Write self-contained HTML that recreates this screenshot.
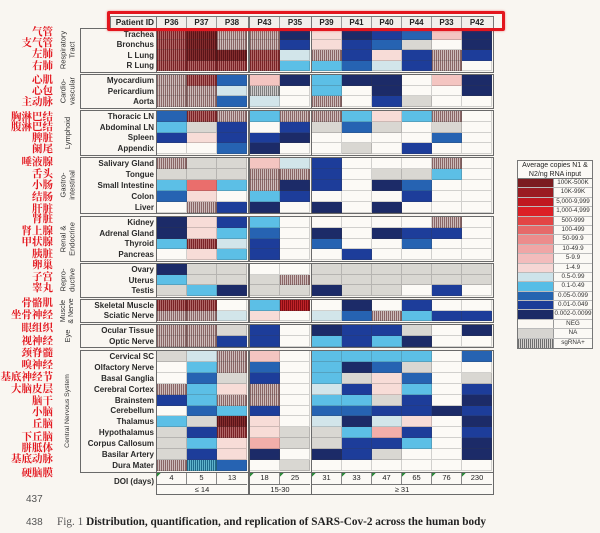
<!DOCTYPE html>
<html><head><meta charset="utf-8">
<style>
*{margin:0;padding:0}
body{width:600px;height:533px;background:#f9f6f1;position:relative;overflow:hidden;font-family:"Liberation Sans",Arial,sans-serif;color:#222}
.s{position:absolute;left:0;width:600px}
.f{position:absolute;top:-1.5px;bottom:-1.5px;border:1.5px solid #6a6a6a;box-sizing:border-box}
.f0{left:80px;width:77px}
.f1{left:155.5px;width:93px}
.f2{left:248.5px;width:63px}
.f3{left:310.5px;width:183px}
.lab{position:absolute;left:82px;width:72px;top:0;bottom:0;display:flex;flex-direction:column;font-weight:bold;font-size:8px;color:#2a2a2a}
.lab span{flex:1;display:flex;align-items:center;justify-content:flex-end;white-space:nowrap}
.g{position:absolute;left:157px;width:335px;top:0;bottom:0;display:flex;flex-direction:column}
.r{flex:1;display:flex}
.r i{display:block;width:30px;flex:none;box-sizing:border-box;border-right:1px solid rgba(60,60,60,.22);border-bottom:1px solid rgba(60,60,60,.22)}
.r i:nth-child(3){margin-right:3px}
.r i:nth-child(5){margin-right:2px}
.A{background:#7b1c20}.B{background:#a01d22}.C{background:#c4181f}.D{background:#dd2027}
.E{background:#e34747}.F{background:#ea6e6c}.G{background:#ee9090}.H{background:#f1aeaa}
.I{background:#f4c5c1}.J{background:#f7dcd7}.K{background:#d2e5ea}.L{background:#5cbfe6}
.M{background:#2663b2}.N{background:#1d3d9a}.O{background:#1c2b68}.W{background:#fcfaf6}.X{background:#d9d7d2}
.Sr{background:repeating-linear-gradient(90deg,#7a2226 0 1px,#b06868 1px 2px)}
.Sd{background:repeating-linear-gradient(90deg,#5a1317 0 1px,#852e2f 1px 2px)}
.Sb{background:repeating-linear-gradient(90deg,#8a6666 0 1px,#cdbdbb 1px 2px)}
.Sg{background:repeating-linear-gradient(90deg,#7e7e7e 0 1px,#cfcccc 1px 2px)}
.Sc{background:repeating-linear-gradient(90deg,#860c12 0 1px,#bf2329 1px 2px)}
.St{background:repeating-linear-gradient(90deg,#1f6a8c 0 1px,#5fb4cc 1px 2px)}
.sl{position:absolute;left:68px;top:50%;transform:translate(-50%,-50%) rotate(-90deg);white-space:nowrap;text-align:center;font-size:7.5px;line-height:8.5px;color:#333}
.cn{position:absolute;right:547px;font-family:"Noto Serif CJK SC","Noto Sans CJK SC",serif;font-weight:bold;font-size:10.5px;line-height:12px;color:#e3161e;white-space:nowrap}
.hb{position:absolute;top:15.5px;height:13.5px;border:1.2px solid #777;box-sizing:border-box;background:#f2efeb;display:flex;font-weight:bold;font-size:8px;line-height:11px}
.hb span{width:30px;flex:none;text-align:center;border-right:1px solid #999;box-sizing:border-box}
.hb span:last-child{border-right:none}
.d{position:absolute;top:0;height:10.5px;display:flex;font-size:7.5px;line-height:10.5px}
.d i{font-style:normal;width:30px;flex:none;text-align:center;border-right:1px solid #888;box-sizing:border-box}
.d i:last-child{border-right:none}
.d i.t{background:linear-gradient(135deg,#2e8b3c 0 2.5px,transparent 2.5px)}
.dg{position:absolute;top:10.5px;bottom:0;border-top:1px solid #777;font-size:7.5px;text-align:center;line-height:10px}
.lg{position:absolute;left:517px;top:160px;width:76px;height:189px;border:1px solid #777;box-sizing:border-box;background:#fbf9f5}
.lt{height:18px;border-bottom:1px solid #777;font-size:7px;line-height:8.5px;text-align:center;padding-top:1px;box-sizing:border-box}
.lr{height:9.4px;display:flex;border-bottom:1px solid #bbb;box-sizing:border-box}
.lr b{width:35px;flex:none}
.lr span{flex:1;border-left:1px solid #999;font-size:6.3px;line-height:8.4px;text-align:center;color:#333;white-space:nowrap;overflow:hidden}
</style></head><body>

<div class="cn" style="top:26px">气管</div>
<div class="cn" style="top:37px">支气管</div>
<div class="cn" style="top:48px">左肺</div>
<div class="cn" style="top:60px">右肺</div>
<div class="cn" style="top:74px">心肌</div>
<div class="cn" style="top:85px">心包</div>
<div class="cn" style="top:96px">主动脉</div>
<div class="cn" style="top:111px">胸淋巴结</div>
<div class="cn" style="top:121px">腹淋巴结</div>
<div class="cn" style="top:132px">脾脏</div>
<div class="cn" style="top:143px">阑尾</div>
<div class="cn" style="top:156px">唾液腺</div>
<div class="cn" style="top:168px">舌头</div>
<div class="cn" style="top:179px">小肠</div>
<div class="cn" style="top:191px">结肠</div>
<div class="cn" style="top:203px">肝脏</div>
<div class="cn" style="top:213px">肾脏</div>
<div class="cn" style="top:225px">肾上腺</div>
<div class="cn" style="top:236px">甲状腺</div>
<div class="cn" style="top:248px">胰脏</div>
<div class="cn" style="top:259px">卵巢</div>
<div class="cn" style="top:271px">子宫</div>
<div class="cn" style="top:282px">睾丸</div>
<div class="cn" style="top:297px">骨骼肌</div>
<div class="cn" style="top:309px">坐骨神经</div>
<div class="cn" style="top:322px">眼组织</div>
<div class="cn" style="top:335px">视神经</div>
<div class="cn" style="top:347px">颈脊髓</div>
<div class="cn" style="top:359px">嗅神经</div>
<div class="cn" style="top:371px">基底神经节</div>
<div class="cn" style="top:383px">大脑皮层</div>
<div class="cn" style="top:395px">脑干</div>
<div class="cn" style="top:406px">小脑</div>
<div class="cn" style="top:418px">丘脑</div>
<div class="cn" style="top:431px">下丘脑</div>
<div class="cn" style="top:442px">胼胝体</div>
<div class="cn" style="top:453px">基底动脉</div>
<div class="cn" style="top:467px">硬脑膜</div>

<div class="hb" style="left:110px;width:47px;justify-content:flex-end;padding-right:2px;font-size:8.3px">Patient ID</div>
<div class="hb" style="left:155.5px;width:93px;padding-left:0.5px"><span>P36</span><span>P37</span><span>P38</span></div>
<div class="hb" style="left:248.5px;width:63px;padding-left:0.5px"><span>P43</span><span>P35</span></div>
<div class="hb" style="left:310.5px;width:183px;padding-left:0.5px"><span>P39</span><span>P41</span><span>P40</span><span>P44</span><span>P33</span><span>P42</span></div>

<div class="s" style="top:29px;height:42px">
<b class="f f0"></b><b class="f f1"></b><b class="f f2"></b><b class="f f3"></b>
<div class="sl">Respiratory<br>Tract</div>
<div class="lab"><span>Trachea</span><span>Bronchus</span><span>L Lung</span><span>R Lung</span></div>
<div class="g">
<div class="r"><i class="Sr"></i><i class="Sd"></i><i class="Sb"></i><i class="Sb"></i><i class="O"></i><i class="J"></i><i class="O"></i><i class="N"></i><i class="M"></i><i class="I"></i><i class="O"></i></div>
<div class="r"><i class="Sr"></i><i class="Sd"></i><i class="Sb"></i><i class="Sb"></i><i class="N"></i><i class="J"></i><i class="N"></i><i class="M"></i><i class="X"></i><i class="W"></i><i class="O"></i></div>
<div class="r"><i class="Sr"></i><i class="Sd"></i><i class="Sd"></i><i class="Sr"></i><i class="K"></i><i class="Sb"></i><i class="N"></i><i class="J"></i><i class="N"></i><i class="Sb"></i><i class="N"></i></div>
<div class="r"><i class="Sr"></i><i class="Sr"></i><i class="Sr"></i><i class="Sr"></i><i class="L"></i><i class="L"></i><i class="M"></i><i class="K"></i><i class="N"></i><i class="Sb"></i><i class="W"></i></div>
</div></div>

<div class="s" style="top:75px;height:32px">
<b class="f f0"></b><b class="f f1"></b><b class="f f2"></b><b class="f f3"></b>
<div class="sl">Cardio-<br>vascular</div>
<div class="lab"><span>Myocardium</span><span>Pericardium</span><span>Aorta</span></div>
<div class="g">
<div class="r"><i class="Sb"></i><i class="Sr"></i><i class="M"></i><i class="I"></i><i class="O"></i><i class="L"></i><i class="O"></i><i class="O"></i><i class="W"></i><i class="I"></i><i class="O"></i></div>
<div class="r"><i class="Sb"></i><i class="Sb"></i><i class="K"></i><i class="Sg"></i><i class="W"></i><i class="L"></i><i class="W"></i><i class="O"></i><i class="W"></i><i class="W"></i><i class="O"></i></div>
<div class="r"><i class="Sb"></i><i class="Sb"></i><i class="M"></i><i class="K"></i><i class="W"></i><i class="Sb"></i><i class="W"></i><i class="N"></i><i class="X"></i><i class="W"></i><i class="W"></i></div>
</div></div>

<div class="s" style="top:111px;height:43px">
<b class="f f0"></b><b class="f f1"></b><b class="f f2"></b><b class="f f3"></b>
<div class="sl">Lymphoid</div>
<div class="lab"><span>Thoracic LN</span><span>Abdominal LN</span><span>Spleen</span><span>Appendix</span></div>
<div class="g">
<div class="r"><i class="M"></i><i class="Sr"></i><i class="Sb"></i><i class="L"></i><i class="Sb"></i><i class="Sb"></i><i class="L"></i><i class="J"></i><i class="L"></i><i class="Sb"></i><i class="W"></i></div>
<div class="r"><i class="L"></i><i class="X"></i><i class="N"></i><i class="W"></i><i class="N"></i><i class="X"></i><i class="M"></i><i class="X"></i><i class="W"></i><i class="X"></i><i class="W"></i></div>
<div class="r"><i class="N"></i><i class="J"></i><i class="N"></i><i class="N"></i><i class="O"></i><i class="W"></i><i class="W"></i><i class="W"></i><i class="W"></i><i class="M"></i><i class="W"></i></div>
<div class="r"><i class="W"></i><i class="W"></i><i class="M"></i><i class="O"></i><i class="W"></i><i class="W"></i><i class="X"></i><i class="W"></i><i class="N"></i><i class="W"></i><i class="W"></i></div>
</div></div>

<div class="s" style="top:158px;height:54.5px">
<b class="f f0"></b><b class="f f1"></b><b class="f f2"></b><b class="f f3"></b>
<div class="sl">Gastro-<br>intestinal</div>
<div class="lab"><span>Salivary Gland</span><span>Tongue</span><span>Small Intestine</span><span>Colon</span><span>Liver</span></div>
<div class="g">
<div class="r"><i class="Sb"></i><i class="X"></i><i class="X"></i><i class="I"></i><i class="K"></i><i class="N"></i><i class="W"></i><i class="W"></i><i class="W"></i><i class="Sb"></i><i class="W"></i></div>
<div class="r"><i class="X"></i><i class="X"></i><i class="X"></i><i class="Sb"></i><i class="Sb"></i><i class="N"></i><i class="W"></i><i class="X"></i><i class="X"></i><i class="L"></i><i class="W"></i></div>
<div class="r"><i class="L"></i><i class="F"></i><i class="L"></i><i class="Sb"></i><i class="O"></i><i class="N"></i><i class="W"></i><i class="O"></i><i class="M"></i><i class="W"></i><i class="W"></i></div>
<div class="r"><i class="M"></i><i class="J"></i><i class="W"></i><i class="L"></i><i class="N"></i><i class="W"></i><i class="W"></i><i class="W"></i><i class="N"></i><i class="W"></i><i class="W"></i></div>
<div class="r"><i class="W"></i><i class="Sb"></i><i class="N"></i><i class="O"></i><i class="W"></i><i class="O"></i><i class="W"></i><i class="O"></i><i class="W"></i><i class="W"></i><i class="W"></i></div>
</div></div>

<div class="s" style="top:217px;height:43px">
<b class="f f0"></b><b class="f f1"></b><b class="f f2"></b><b class="f f3"></b>
<div class="sl">Renal &amp;<br>Endocrine</div>
<div class="lab"><span>Kidney</span><span>Adrenal Gland</span><span>Thyroid</span><span>Pancreas</span></div>
<div class="g">
<div class="r"><i class="O"></i><i class="J"></i><i class="N"></i><i class="L"></i><i class="W"></i><i class="W"></i><i class="W"></i><i class="W"></i><i class="W"></i><i class="Sb"></i><i class="W"></i></div>
<div class="r"><i class="O"></i><i class="J"></i><i class="L"></i><i class="M"></i><i class="W"></i><i class="O"></i><i class="W"></i><i class="O"></i><i class="N"></i><i class="N"></i><i class="W"></i></div>
<div class="r"><i class="L"></i><i class="Sr"></i><i class="K"></i><i class="N"></i><i class="W"></i><i class="M"></i><i class="W"></i><i class="W"></i><i class="M"></i><i class="W"></i><i class="W"></i></div>
<div class="r"><i class="W"></i><i class="J"></i><i class="L"></i><i class="N"></i><i class="W"></i><i class="W"></i><i class="N"></i><i class="W"></i><i class="W"></i><i class="W"></i><i class="W"></i></div>
</div></div>

<div class="s" style="top:264px;height:32px">
<b class="f f0"></b><b class="f f1"></b><b class="f f2"></b><b class="f f3"></b>
<div class="sl">Repro-<br>ductive</div>
<div class="lab"><span>Ovary</span><span>Uterus</span><span>Testis</span></div>
<div class="g">
<div class="r"><i class="O"></i><i class="X"></i><i class="X"></i><i class="W"></i><i class="W"></i><i class="X"></i><i class="X"></i><i class="X"></i><i class="X"></i><i class="X"></i><i class="X"></i></div>
<div class="r"><i class="L"></i><i class="X"></i><i class="X"></i><i class="X"></i><i class="Sb"></i><i class="X"></i><i class="X"></i><i class="X"></i><i class="X"></i><i class="X"></i><i class="X"></i></div>
<div class="r"><i class="X"></i><i class="L"></i><i class="O"></i><i class="X"></i><i class="X"></i><i class="O"></i><i class="X"></i><i class="X"></i><i class="W"></i><i class="N"></i><i class="W"></i></div>
</div></div>

<div class="s" style="top:300px;height:21px">
<b class="f f0"></b><b class="f f1"></b><b class="f f2"></b><b class="f f3"></b>
<div class="sl" style="font-size:7px;line-height:8px">Muscle<br>&amp; Nerve</div>
<div class="lab"><span>Skeletal Muscle</span><span>Sciatic Nerve</span></div>
<div class="g">
<div class="r"><i class="Sr"></i><i class="Sr"></i><i class="W"></i><i class="L"></i><i class="Sc"></i><i class="W"></i><i class="O"></i><i class="W"></i><i class="N"></i><i class="W"></i><i class="W"></i></div>
<div class="r"><i class="Sb"></i><i class="Sb"></i><i class="K"></i><i class="J"></i><i class="W"></i><i class="K"></i><i class="M"></i><i class="Sb"></i><i class="L"></i><i class="N"></i><i class="N"></i></div>
</div></div>

<div class="s" style="top:325px;height:21.5px">
<b class="f f0"></b><b class="f f1"></b><b class="f f2"></b><b class="f f3"></b>
<div class="sl">Eye</div>
<div class="lab"><span>Ocular Tissue</span><span>Optic Nerve</span></div>
<div class="g">
<div class="r"><i class="Sb"></i><i class="Sb"></i><i class="X"></i><i class="N"></i><i class="W"></i><i class="O"></i><i class="N"></i><i class="N"></i><i class="X"></i><i class="W"></i><i class="O"></i></div>
<div class="r"><i class="Sb"></i><i class="Sb"></i><i class="N"></i><i class="N"></i><i class="W"></i><i class="L"></i><i class="N"></i><i class="L"></i><i class="O"></i><i class="W"></i><i class="W"></i></div>
</div></div>

<div class="s" style="top:351px;height:120px">
<b class="f f0"></b><b class="f f1"></b><b class="f f2"></b><b class="f f3"></b>
<div class="sl" style="font-size:6.8px">Central Nervous System</div>
<div class="lab"><span>Cervical SC</span><span>Olfactory Nerve</span><span>Basal Ganglia</span><span>Cerebral Cortex</span><span>Brainstem</span><span>Cerebellum</span><span>Thalamus</span><span>Hypothalamus</span><span>Corpus Callosum</span><span>Basilar Artery</span><span>Dura Mater</span></div>
<div class="g">
<div class="r"><i class="X"></i><i class="K"></i><i class="Sb"></i><i class="I"></i><i class="W"></i><i class="L"></i><i class="L"></i><i class="L"></i><i class="L"></i><i class="W"></i><i class="M"></i></div>
<div class="r"><i class="W"></i><i class="L"></i><i class="Sb"></i><i class="M"></i><i class="W"></i><i class="L"></i><i class="O"></i><i class="M"></i><i class="X"></i><i class="W"></i><i class="W"></i></div>
<div class="r"><i class="W"></i><i class="M"></i><i class="X"></i><i class="N"></i><i class="W"></i><i class="L"></i><i class="X"></i><i class="J"></i><i class="M"></i><i class="W"></i><i class="X"></i></div>
<div class="r"><i class="Sb"></i><i class="L"></i><i class="J"></i><i class="Sb"></i><i class="W"></i><i class="K"></i><i class="N"></i><i class="J"></i><i class="L"></i><i class="W"></i><i class="N"></i></div>
<div class="r"><i class="N"></i><i class="L"></i><i class="Sb"></i><i class="Sb"></i><i class="W"></i><i class="L"></i><i class="L"></i><i class="X"></i><i class="N"></i><i class="W"></i><i class="O"></i></div>
<div class="r"><i class="W"></i><i class="M"></i><i class="L"></i><i class="N"></i><i class="W"></i><i class="M"></i><i class="M"></i><i class="N"></i><i class="N"></i><i class="O"></i><i class="N"></i></div>
<div class="r"><i class="L"></i><i class="X"></i><i class="Sd"></i><i class="J"></i><i class="W"></i><i class="K"></i><i class="O"></i><i class="K"></i><i class="J"></i><i class="W"></i><i class="O"></i></div>
<div class="r"><i class="X"></i><i class="N"></i><i class="Sr"></i><i class="J"></i><i class="X"></i><i class="X"></i><i class="L"></i><i class="H"></i><i class="N"></i><i class="W"></i><i class="N"></i></div>
<div class="r"><i class="X"></i><i class="L"></i><i class="J"></i><i class="H"></i><i class="X"></i><i class="X"></i><i class="N"></i><i class="N"></i><i class="L"></i><i class="W"></i><i class="O"></i></div>
<div class="r"><i class="X"></i><i class="N"></i><i class="J"></i><i class="O"></i><i class="W"></i><i class="O"></i><i class="N"></i><i class="X"></i><i class="W"></i><i class="W"></i><i class="O"></i></div>
<div class="r"><i class="Sb"></i><i class="St"></i><i class="M"></i><i class="W"></i><i class="X"></i><i class="W"></i><i class="W"></i><i class="W"></i><i class="W"></i><i class="W"></i><i class="W"></i></div>
</div></div>

<div class="s" style="top:473px;height:20px">
<b class="f f1" style="background:#fbf9f5"></b><b class="f f2" style="background:#fbf9f5"></b><b class="f f3" style="background:#fbf9f5"></b>
<div style="position:absolute;left:100px;width:54px;top:3px;text-align:right;font-weight:bold;font-size:8px;line-height:12px;color:#2a2a2a">DOI (days)</div>
<div class="d" style="left:157px;width:90px"><i class="t">4</i><i>5</i><i>13</i></div>
<div class="d" style="left:250px;width:60px"><i class="t">18</i><i class="t">25</i></div>
<div class="d" style="left:312px;width:180px"><i class="t">31</i><i class="t">33</i><i class="t">47</i><i class="t">65</i><i class="t">76</i><i class="t">230</i></div>
<div class="dg" style="left:157px;width:90px">≤ 14</div>
<div class="dg" style="left:250px;width:60px">15-30</div>
<div class="dg" style="left:312px;width:180px">≥ 31</div>
</div>

<div style="position:absolute;left:107px;top:11px;width:398px;height:20px;border:3px solid #e3161e;border-radius:2px;box-sizing:border-box;box-shadow:0 0 2px rgba(227,22,30,.5)"></div>

<div class="lg">
<div class="lt">Average copies N1 &amp;<br>N2/ng RNA input</div>
<div class="lr"><b style="background:#7b1c20"></b><span>100K-500K</span></div>
<div class="lr"><b style="background:#9a1c22"></b><span>10K-99K</span></div>
<div class="lr"><b style="background:#c01820"></b><span>5,000-9,999</span></div>
<div class="lr"><b style="background:#dc1f26"></b><span>1,000-4,999</span></div>
<div class="lr"><b style="background:#e34545"></b><span>500-999</span></div>
<div class="lr"><b style="background:#e66a6a"></b><span>100-499</span></div>
<div class="lr"><b style="background:#ec8c8c"></b><span>50-99.9</span></div>
<div class="lr"><b style="background:#f0a6a6"></b><span>10-49.9</span></div>
<div class="lr"><b style="background:#f3bcbc"></b><span>5-9.9</span></div>
<div class="lr"><b style="background:#f6d6d4"></b><span>1-4.9</span></div>
<div class="lr"><b style="background:#cde3ea"></b><span>0.5-0.99</span></div>
<div class="lr"><b style="background:#56bde6"></b><span>0.1-0.49</span></div>
<div class="lr"><b style="background:#2464b0"></b><span>0.05-0.099</span></div>
<div class="lr"><b style="background:#1b3c98"></b><span>0.01-0.049</span></div>
<div class="lr"><b style="background:#1b2a66"></b><span>0.002-0.0099</span></div>
<div class="lr"><b style="background:#fbf8f3"></b><span>NEG</span></div>
<div class="lr"><b style="background:#d6d4d0"></b><span>NA</span></div>
<div class="lr" style="border-bottom:none"><b style="background:repeating-linear-gradient(90deg,#6e6e6e 0 1px,#d6d3d0 1px 2px)"></b><span>sgRNA+</span></div>
</div>

<div style="position:absolute;left:26px;top:494px;font-size:10px;line-height:12px;color:#555">437</div>
<div style="position:absolute;left:26px;top:517px;font-size:10px;line-height:12px;color:#555">438</div>
<div style="position:absolute;left:57px;top:516px;font-family:'Liberation Serif',serif;font-size:11.25px;line-height:13px;color:#222;white-space:nowrap"><span style="color:#555">Fig. 1 </span><b>Distribution, quantification, and replication of SARS-Cov-2 across the human body</b></div>

</body></html>
